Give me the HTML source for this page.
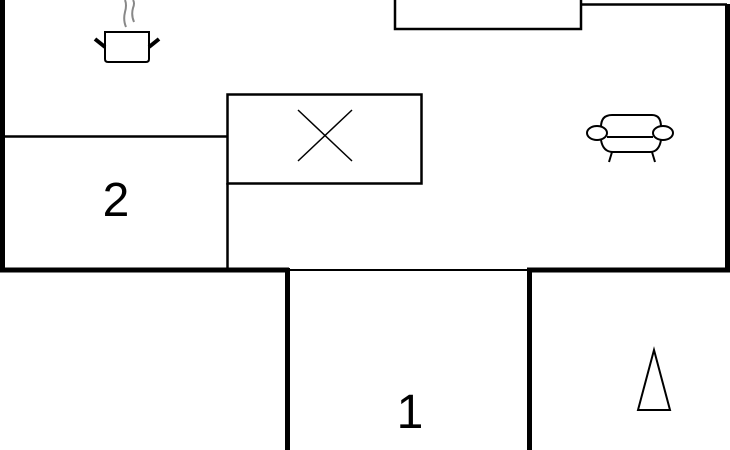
<!DOCTYPE html><html><head><style>body{margin:0;background:#fff}svg{display:block}</style></head><body>
<svg width="730" height="450" viewBox="0 0 730 450" xmlns="http://www.w3.org/2000/svg">
<g stroke="#000" fill="none">
<line x1="2.5" y1="0" x2="2.5" y2="272" stroke-width="5"/>
<line x1="727.5" y1="4" x2="727.5" y2="272" stroke-width="5"/>
<line x1="0" y1="270" x2="289" y2="270" stroke-width="5"/>
<line x1="527" y1="270" x2="730" y2="270" stroke-width="5"/>
<line x1="289" y1="270" x2="527" y2="270" stroke-width="2"/>
<line x1="287.5" y1="268" x2="287.5" y2="450" stroke-width="5"/>
<line x1="529.5" y1="268" x2="529.5" y2="450" stroke-width="5"/>
<rect x="395" y="-2" width="186" height="31" stroke-width="2.5"/>
<line x1="581" y1="4.5" x2="727" y2="4.5" stroke-width="2.5"/>
<rect x="227.5" y="94.5" width="194" height="89" stroke-width="2.5"/>
<line x1="5" y1="136.5" x2="227" y2="136.5" stroke-width="2.5"/>
<line x1="227.5" y1="183" x2="227.5" y2="270" stroke-width="2.5"/>
<line x1="298" y1="110" x2="352" y2="161" stroke-width="1.5"/>
<line x1="352" y1="110" x2="298" y2="161" stroke-width="1.5"/>
<polygon points="654,350 638,410 670,410" stroke-width="2"/>
<!-- pot -->
<path d="M105,32 H149 V59 Q149,62 146,62 H108 Q105,62 105,59 Z" stroke-width="2"/>
<line x1="95" y1="39" x2="105" y2="47" stroke-width="4"/>
<line x1="159" y1="39" x2="149" y2="47" stroke-width="4"/>
<path d="M126,27 Q123,20 125,12 Q127,5 125,0" stroke="#888" stroke-width="2"/>
<path d="M134,22 Q131,15 133,8 Q135,3 133,0" stroke="#888" stroke-width="2"/>
<!-- armchair -->
<path d="M601,127 Q601,115 612,115 H652 Q661,115 661,127" stroke-width="2"/>
<path d="M601,140 Q603,152 613,152 H650 Q659,152 661,140" stroke-width="2"/>
<ellipse cx="597" cy="133" rx="10" ry="7" stroke-width="2"/>
<ellipse cx="663" cy="133" rx="10" ry="7" stroke-width="2"/>
<line x1="607" y1="137" x2="653" y2="137" stroke-width="2"/>
<line x1="612" y1="152" x2="609" y2="162" stroke-width="2"/>
<line x1="652" y1="152" x2="655" y2="162" stroke-width="2"/>
</g>
<g font-family="Liberation Sans, sans-serif" font-size="48" fill="#000" text-anchor="middle">
<text x="116" y="216">2</text>
<text x="410" y="428">1</text>
</g>
</svg>
</body></html>
